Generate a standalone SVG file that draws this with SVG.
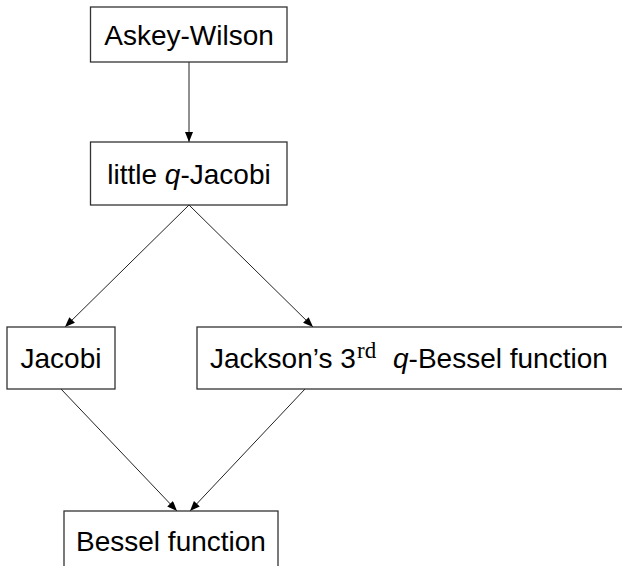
<svg xmlns="http://www.w3.org/2000/svg" width="622" height="566" viewBox="0 0 622 566">
<defs>
<marker id="ah" viewBox="0 0 10 8" refX="10" refY="4" markerWidth="10" markerHeight="8" markerUnits="userSpaceOnUse" orient="auto">
<path d="M0,0 L10,4 L0,8 Z" fill="#000"/>
</marker>
</defs>
<style>
.box{fill:#fff;stroke:#333;stroke-width:1.3}
.lbl{font-family:"Liberation Sans",Arial,Helvetica,sans-serif;font-size:28px;fill:#000}
.edge{stroke:#222;stroke-width:1;fill:none;marker-end:url(#ah)}
</style>
<g id="connectors">
<line class="edge" x1="189" y1="62" x2="189" y2="142"/>
<line class="edge" x1="189" y1="205" x2="65" y2="327"/>
<line class="edge" x1="189" y1="205" x2="313" y2="327"/>
<line class="edge" x1="61" y1="389" x2="177" y2="511"/>
<line class="edge" x1="305" y1="389" x2="190" y2="511"/>
</g>
<g id="askey-wilson">
<rect class="box" x="90.5" y="7" width="196.5" height="55"/>
<text class="lbl" x="189" y="45" text-anchor="middle">Askey-Wilson</text>
</g>
<g id="little-q-jacobi">
<rect class="box" x="90.5" y="142" width="196.5" height="63"/>
<text class="lbl" x="189" y="184" text-anchor="middle">little <tspan font-style="italic">q</tspan>-Jacobi</text>
</g>
<g id="jacobi">
<rect class="box" x="7" y="327" width="108" height="62"/>
<text class="lbl" x="61" y="368" text-anchor="middle">Jacobi</text>
</g>
<g id="jackson">
<rect class="box" x="197" y="327" width="430" height="62"/>
<text class="lbl" x="210" y="368">Jackson’s 3<tspan x="357" dy="-10" font-family="'Liberation Serif','Times New Roman',serif" font-size="23">rd</tspan><tspan x="393" dy="10" font-style="italic">q</tspan>-Bessel function</text>
</g>
<g id="bessel">
<rect class="box" x="64" y="511" width="214" height="70"/>
<text class="lbl" x="171" y="551" text-anchor="middle">Bessel function</text>
</g>
</svg>
